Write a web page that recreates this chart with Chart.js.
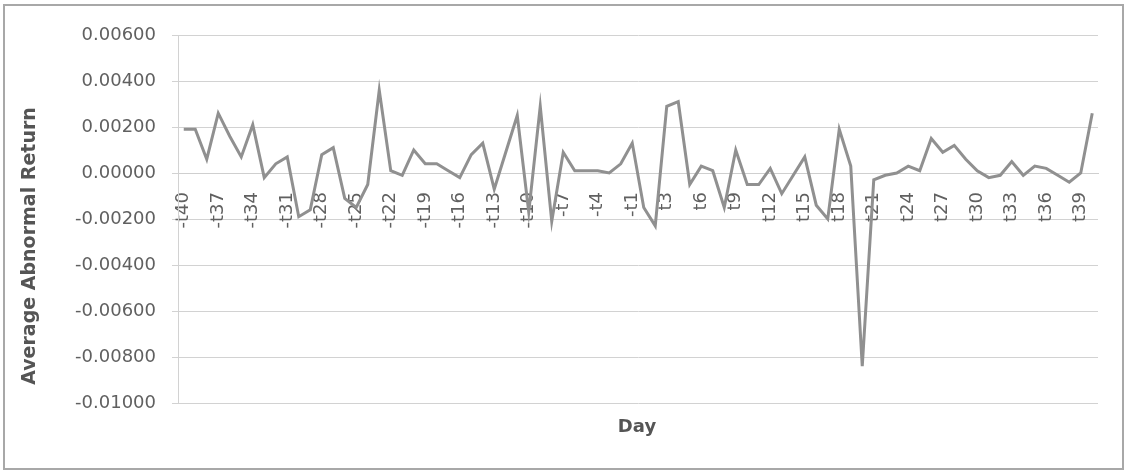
<!DOCTYPE html>
<html>
<head>
<meta charset="utf-8">
<title>Average Abnormal Return by Day</title>
<script src="https://cdn.jsdelivr.net/npm/chart.js@4.4.1/dist/chart.umd.min.js"></script>
<style>
  html, body { margin: 0; padding: 0; background: #ffffff; }
  #wrap { width: 1127px; height: 473px; position: relative; }
</style>
</head>
<body>
<div id="wrap"><canvas id="chart" width="1127" height="473"></canvas></div>
<script>
// Event window days
const days = [
  '-t40','-t39','-t38','-t37','-t36','-t35','-t34','-t33','-t32','-t31',
  '-t30','-t29','-t28','-t27','-t26','-t25','-t24','-t23','-t22','-t21',
  '-t20','-t19','-t18','-t17','-t16','-t15','-t14','-t13','-t12','-t11',
  '-t10','-t9','-t8','-t7','-t6','-t5','-t4','-t3','-t2','-t1',
  't1','t2','t3','t4','t5','t6','t7','t8','t9','t10',
  't11','t12','t13','t14','t15','t16','t17','t18','t19','t20',
  't21','t22','t23','t24','t25','t26','t27','t28','t29','t30',
  't31','t32','t33','t34','t35','t36','t37','t38','t39','t40'
];

// Average abnormal return per day
const avgAbnormalReturn = [
   0.0019,  0.0019,  0.0006,  0.0026,  0.0016,  0.0007,  0.0021, -0.0002,  0.0004,  0.0007,
  -0.0019, -0.0016,  0.0008,  0.0011, -0.0011, -0.0015, -0.0005,  0.0036,  0.0001, -0.0001,
   0.0010,  0.0004,  0.0004,  0.0001, -0.0002,  0.0008,  0.0013, -0.0007,  0.0009,  0.0025,
  -0.0017,  0.0029, -0.0021,  0.0009,  0.0001,  0.0001,  0.0001,  0.0000,  0.0004,  0.0013,
  -0.0015, -0.0023,  0.0029,  0.0031, -0.0005,  0.0003,  0.0001, -0.0015,  0.0010, -0.0005,
  -0.0005,  0.0002, -0.0009, -0.0001,  0.0007, -0.0014, -0.0020,  0.0019,  0.0003, -0.0084,
  -0.0003, -0.0001,  0.0000,  0.0003,  0.0001,  0.0015,  0.0009,  0.0012,  0.0006,  0.0001,
  -0.0002, -0.0001,  0.0005, -0.0001,  0.0003,  0.0002, -0.0001, -0.0004,  0.0000,  0.0026
];

// Value axis range and spacing
const yMin = -0.01;
const yMax = 0.006;
const yStep = 0.002;

// Show every third day label
const dayLabelEvery = 3;

const yTitle = 'Average Abnormal Return';
const xTitle = 'Day';

const frameAndCaptions = {
  id: 'frameAndCaptions',
  beforeDraw(chart) {
    const ctx = chart.ctx;
    ctx.save();
    ctx.fillStyle = '#ffffff';
    ctx.fillRect(0, 0, chart.width, chart.height);
    ctx.restore();
  },
  afterDraw(chart) {
    const ctx = chart.ctx;
    ctx.save();
    // outer frame
    ctx.strokeStyle = '#a8a8a8';
    ctx.lineWidth = 2;
    ctx.strokeRect(4, 5, chart.width - 8, chart.height - 9);
    // axis captions
    ctx.fillStyle = '#555555';
    ctx.textAlign = 'center';
    ctx.textBaseline = 'middle';
    ctx.font = 'bold 19px "DejaVu Sans"';
    ctx.translate(30, 246);
    ctx.rotate(-Math.PI / 2);
    ctx.fillText(yTitle, 0, 0);
    ctx.restore();
    ctx.save();
    ctx.fillStyle = '#555555';
    ctx.textAlign = 'center';
    ctx.textBaseline = 'middle';
    ctx.font = 'bold 18px "DejaVu Sans"';
    ctx.fillText(xTitle, 637, 427);
    ctx.restore();
  }
};

new Chart(document.getElementById('chart'), {
  type: 'line',
  data: {
    labels: days,
    datasets: [{
      data: avgAbnormalReturn,
      borderColor: '#909090',
      borderWidth: 3,
      pointRadius: 0,
      pointHoverRadius: 0,
      tension: 0,
      fill: false
    }]
  },
  options: {
    responsive: false,
    animation: false,
    devicePixelRatio: 1,
    layout: { padding: { left: 0, right: 29, top: 35, bottom: 70 } },
    plugins: {
      legend: { display: false },
      tooltip: { enabled: false },
      title: { display: false }
    },
    scales: {
      x: {
        type: 'category',
        position: { y: 0 },
        offset: true,
        afterFit(scale) {
          scale.paddingLeft = 0;
          scale.paddingRight = 0;
        },
        grid: { display: true, drawOnChartArea: false, drawTicks: false },
        border: { display: true, color: '#cfcfcf', width: 1 },
        ticks: {
          autoSkip: false,
          minRotation: 90,
          maxRotation: 90,
          padding: 19,
          color: '#606060',
          font: { family: '"DejaVu Sans"', size: 18 },
          callback(value, index) {
            return index % dayLabelEvery === 0 ? days[index] : '';
          }
        }
      },
      y: {
        min: yMin,
        max: yMax,
        afterFit(scale) { scale.width = 178; },
        grid: { color: '#d2d2d2', lineWidth: 1, tickLength: 6, drawTicks: true },
        border: { display: true, color: '#d2d2d2', width: 1 },
        ticks: {
          stepSize: yStep,
          padding: 16,
          color: '#606060',
          font: { family: '"DejaVu Sans"', size: 18 },
          callback(value) {
            const v = Math.abs(value) < 1e-12 ? 0 : value;
            return v.toFixed(5);
          }
        }
      }
    }
  },
  plugins: [frameAndCaptions]
});
</script>
</body>
</html>
